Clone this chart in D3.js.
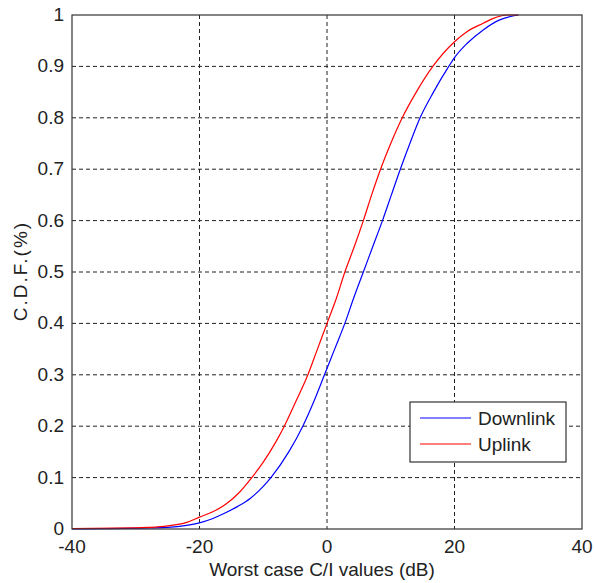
<!DOCTYPE html>
<html lang="en">
<head>
<meta charset="utf-8">
<title>Worst case C/I CDF</title>
<script src="https://d3js.org/d3.v7.min.js"></script>
<style>
  body { margin: 0; background: #fff; }
  svg { display: block; font-family: "Liberation Sans", Arial, sans-serif; }
  .grid line { stroke: #222; stroke-dasharray: 4,3; stroke-width: 1; }
  .tick-label { font-size: 19px; fill: #222; }
  .axis-title { font-size: 19px; fill: #222; }
</style>
</head>
<body>
<svg width="594" height="583"></svg>
<script>
// x values (dB) and CDF values
const downX = [-40, -28, -25, -22, -20, -18, -16, -14, -12, -10, -8.8, -6, -3.8, -2, -0.4, 1.2, 2.8, 4.2, 5.7, 7.2, 8.7, 10.1, 11.5, 13, 14.6, 16.7, 19.1, 20, 22, 24.5, 27, 30];
const downY = [0, 0.002, 0.003, 0.007, 0.012, 0.02, 0.031, 0.044, 0.06, 0.083, 0.1, 0.15, 0.2, 0.25, 0.3, 0.35, 0.4, 0.45, 0.5, 0.55, 0.6, 0.65, 0.7, 0.75, 0.8, 0.85, 0.9, 0.917, 0.945, 0.971, 0.99, 1.0];

const upX = [-40, -30, -28, -25, -22, -20, -18, -16, -14, -11.8, -10, -8, -6.7, -5, -3, -1.5, 0, 1.5, 2.8, 4.3, 5.7, 7, 8.4, 10, 11.8, 14, 16.6, 20, 22, 24.5, 26, 28.2, 30];
const upY = [0.001, 0.002, 0.003, 0.006, 0.013, 0.023, 0.033, 0.047, 0.068, 0.1, 0.13, 0.17, 0.2, 0.245, 0.3, 0.35, 0.4, 0.45, 0.5, 0.55, 0.6, 0.65, 0.7, 0.75, 0.8, 0.85, 0.9, 0.948, 0.968, 0.984, 0.993, 1.0, 1.0];

const xTicks = [-40, -20, 0, 20, 40];
const yTicks = [0, 0.1, 0.2, 0.3, 0.4, 0.5, 0.6, 0.7, 0.8, 0.9, 1];
const seriesNames = ["Downlink", "Uplink"];
const seriesColors = ["#0000ff", "#ff0000"];

const svg = d3.select("svg");
const plotL = 72, plotR = 582, plotT = 15, plotB = 529;

const x = d3.scaleLinear().domain([-40, 40]).range([plotL, plotR]);
const y = d3.scaleLinear().domain([0, 1]).range([plotB, plotT]);

// grid lines
const grid = svg.append("g").attr("class", "grid");
grid.selectAll("line.v")
    .data(xTicks.slice(1, -1))
    .enter().append("line")
    .attr("x1", d => x(d)).attr("x2", d => x(d))
    .attr("y1", plotT).attr("y2", plotB);
grid.selectAll("line.h")
    .data(yTicks.slice(1, -1))
    .enter().append("line")
    .attr("x1", plotL).attr("x2", plotR)
    .attr("y1", d => y(d)).attr("y2", d => y(d));

// curves
const line = d3.line()
    .x(d => x(d[0])).y(d => y(d[1]))
    .curve(d3.curveMonotoneX);
const series = [d3.zip(downX, downY), d3.zip(upX, upY)];
svg.selectAll("path.curve")
    .data(series)
    .enter().append("path")
    .attr("class", "curve")
    .attr("fill", "none")
    .attr("stroke", (d, i) => seriesColors[i])
    .attr("stroke-width", 1.2)
    .attr("d", line);

// frame
svg.append("rect")
    .attr("x", plotL).attr("y", plotT)
    .attr("width", plotR - plotL).attr("height", plotB - plotT)
    .attr("fill", "none").attr("stroke", "#333").attr("stroke-width", 1.2);

// tick labels
svg.selectAll("text.xt")
    .data(xTicks)
    .enter().append("text")
    .attr("class", "tick-label")
    .attr("x", d => x(d))
    .attr("y", 553)
    .attr("text-anchor", "middle")
    .text(d => d);

svg.selectAll("text.yt")
    .data(yTicks)
    .enter().append("text")
    .attr("class", "tick-label")
    .attr("x", 64)
    .attr("y", d => y(d) + 6)
    .attr("text-anchor", "end")
    .text(d => d);

// axis titles
svg.append("text")
    .attr("class", "axis-title")
    .attr("x", (plotL + plotR) / 2 - 5)
    .attr("y", 576)
    .attr("text-anchor", "middle")
    .text("Worst case C/I values (dB)");

svg.append("text")
    .attr("class", "axis-title")
    .attr("transform", "translate(27,271) rotate(-90)")
    .attr("text-anchor", "middle")
    .style("letter-spacing", "2px")
    .text("C.D.F.(%)");

// legend
const legend = svg.append("g");
legend.append("rect")
    .attr("x", 410).attr("y", 402)
    .attr("width", 156).attr("height", 60)
    .attr("fill", "#fff").attr("stroke", "#333").attr("stroke-width", 1.2);
const items = legend.selectAll("g.item")
    .data(seriesNames)
    .enter().append("g")
    .attr("transform", (d, i) => "translate(0," + (418 + i * 26) + ")");
items.append("line")
    .attr("x1", 420).attr("x2", 471)
    .attr("stroke", (d, i) => seriesColors[i])
    .attr("stroke-width", 1.2);
items.append("text")
    .attr("class", "tick-label")
    .attr("x", 478).attr("y", 7)
    .text(d => d);
</script>
</body>
</html>
